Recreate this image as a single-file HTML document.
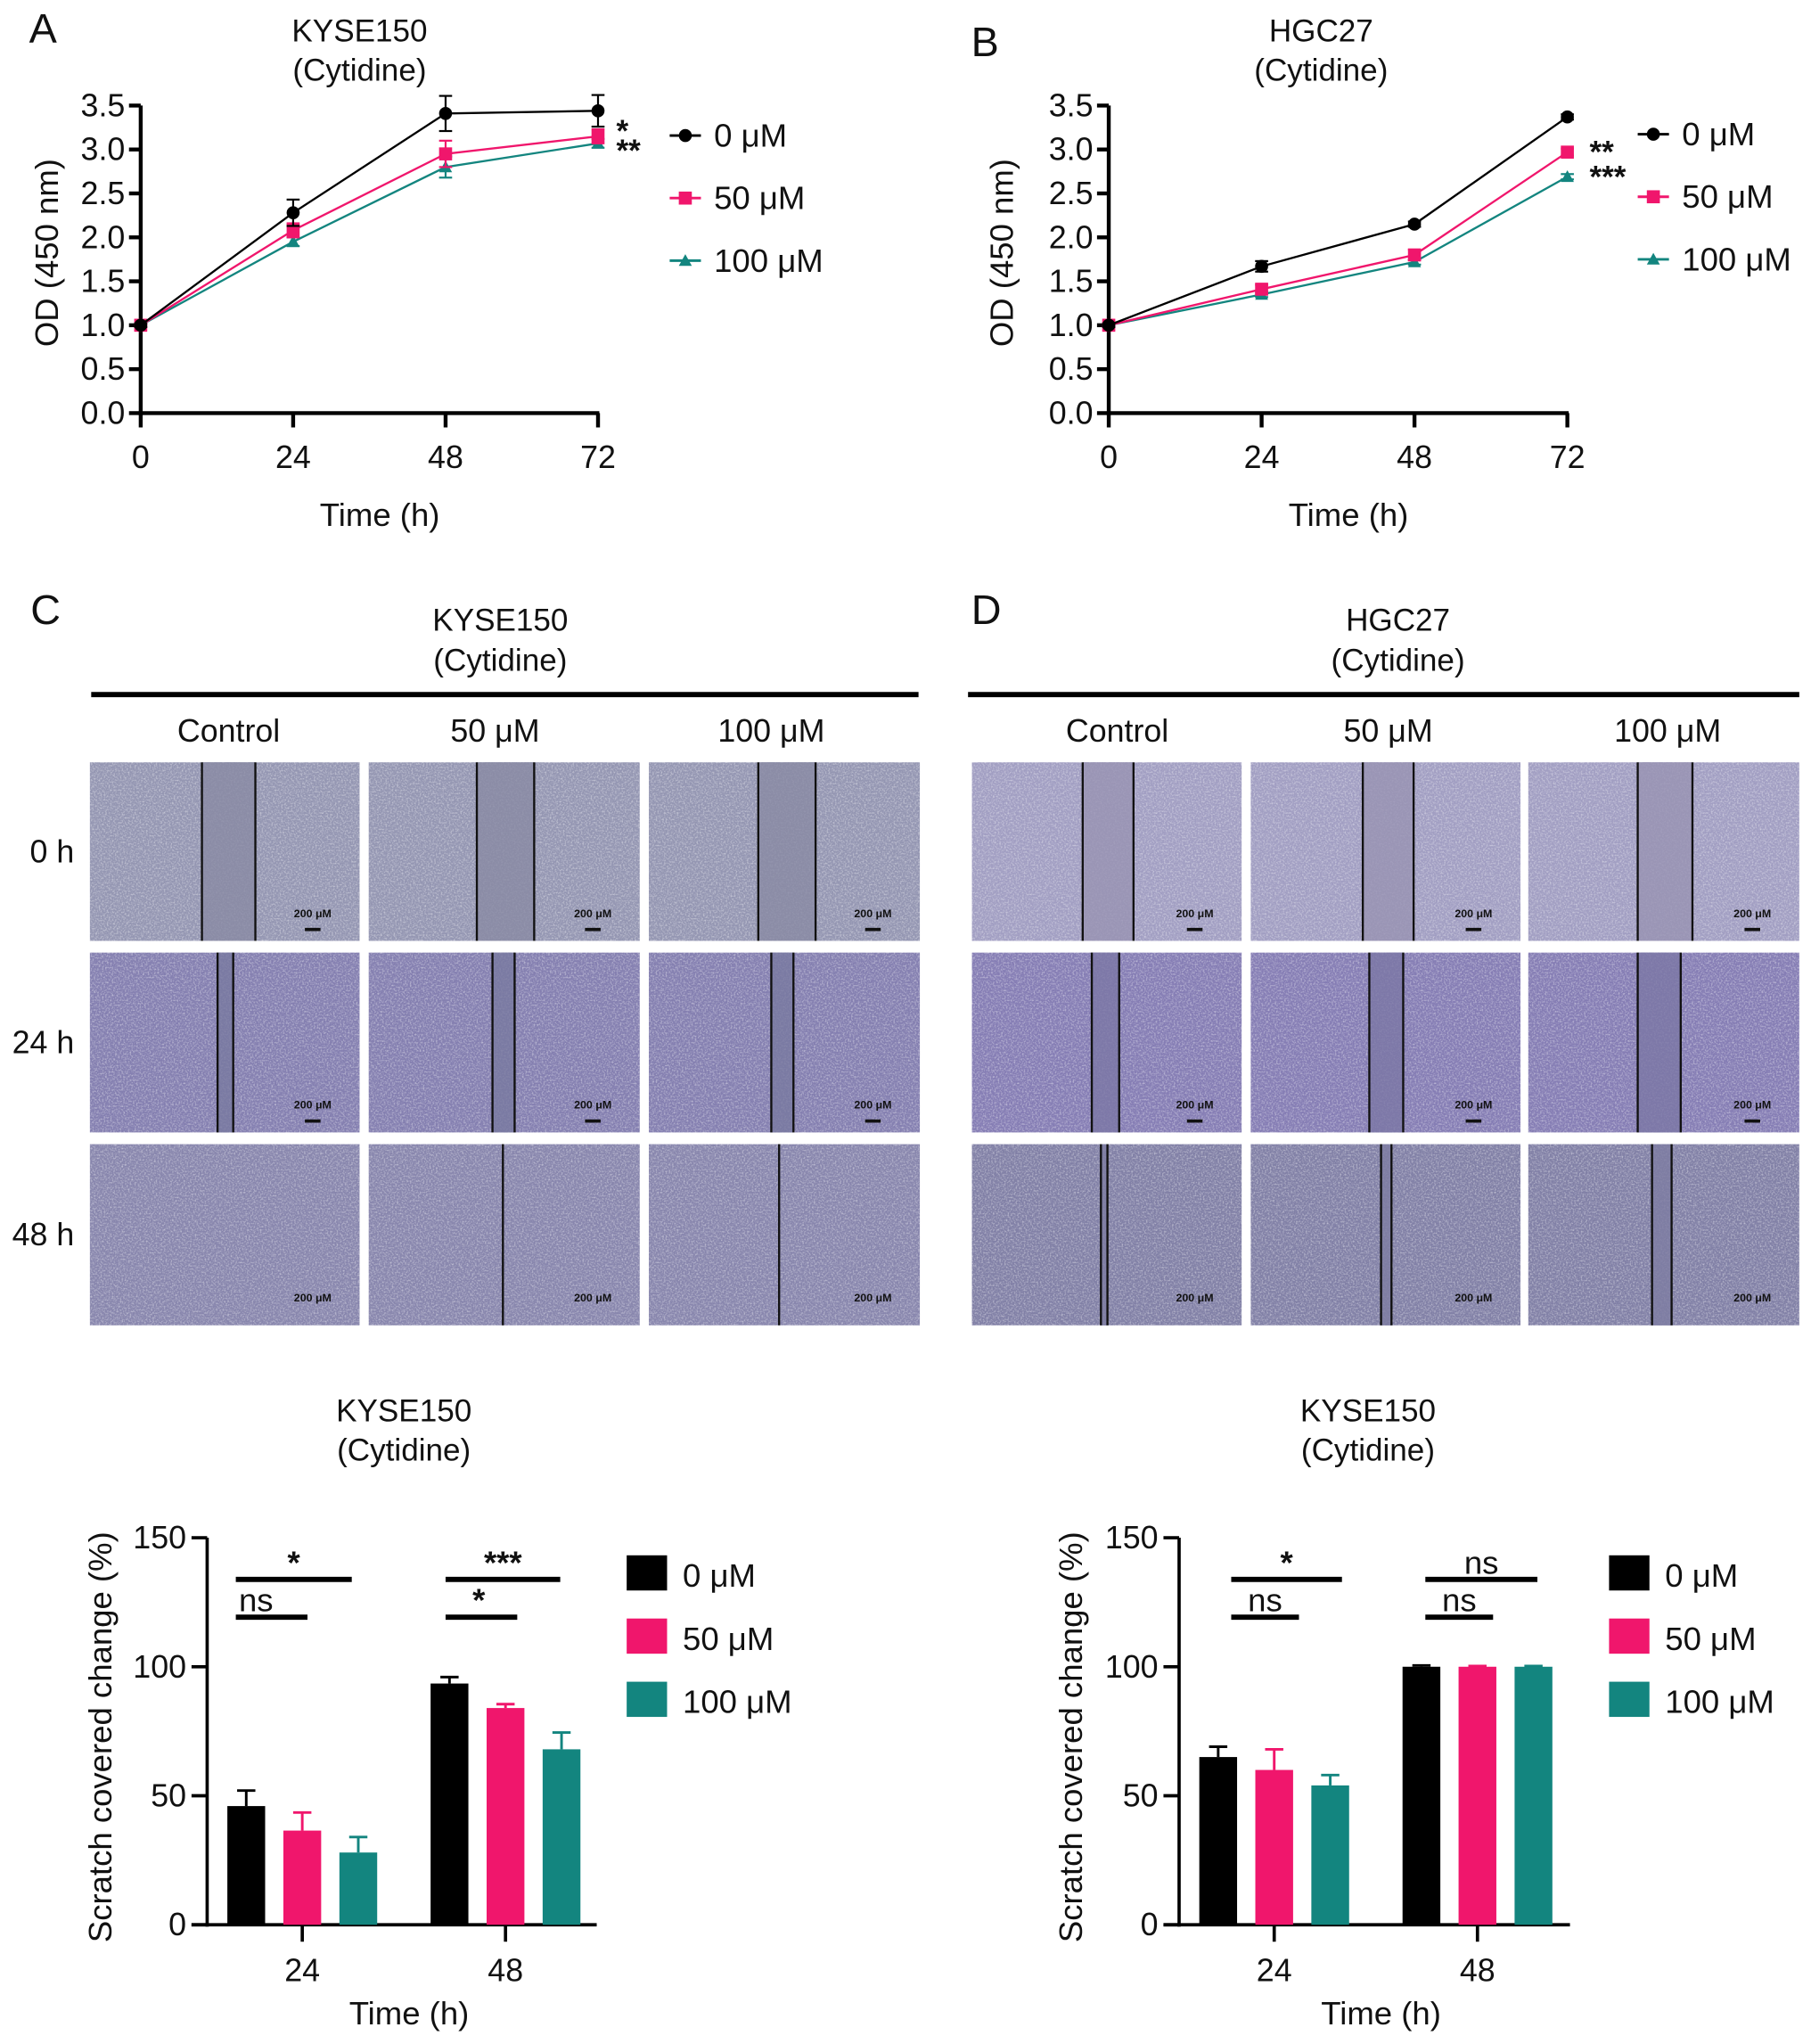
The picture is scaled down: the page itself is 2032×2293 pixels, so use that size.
<!DOCTYPE html>
<html><head><meta charset="utf-8">
<style>
html,body{margin:0;padding:0;background:#fff;}
svg{display:block;font-family:"Liberation Sans",Arial,sans-serif;}
</style></head>
<body>
<svg id="fig" width="2032" height="2293" viewBox="0 0 1390 1568.5" preserveAspectRatio="none" xmlns="http://www.w3.org/2000/svg">
<defs>
<filter id="noise" x="0" y="0" width="100%" height="100%">
<feTurbulence type="fractalNoise" baseFrequency="0.8" numOctaves="2" seed="3" result="t"/>
<feColorMatrix type="matrix" values="0 0 0 0 1  0 0 0 0 1  0 0 0 0 1  0 0 0 2.2 -0.95"/>
</filter>
</defs>
</svg>
<script>
// ===== data: line charts =====
const timeCats = [0, 24, 48, 72];
const yTicksOD = [0.0, 0.5, 1.0, 1.5, 2.0, 2.5, 3.0, 3.5];
const seriesLabels = ['0 μM', '50 μM', '100 μM'];
const kyseOD0 = [1.0, 2.28, 3.41, 3.44];
const kyseOD50 = [1.0, 2.08, 2.95, 3.15];
const kyseOD100 = [1.0, 1.95, 2.80, 3.07];
const kyseErr0 = [0.02, 0.15, 0.20, 0.18];
const kyseErr50 = [0.02, 0.08, 0.15, 0.08];
const kyseErr100 = [0.02, 0.05, 0.12, 0.05];
const hgcOD0 = [1.0, 1.67, 2.15, 3.37];
const hgcOD50 = [1.0, 1.41, 1.80, 2.97];
const hgcOD100 = [1.0, 1.35, 1.72, 2.69];
const hgcErr0 = [0.02, 0.06, 0.03, 0.03];
const hgcErr50 = [0.02, 0.05, 0.06, 0.04];
const hgcErr100 = [0.02, 0.03, 0.03, 0.03];
// ===== data: bar charts =====
const barCats = ['24', '48'];
const yTicksBar = [0, 50, 100, 150];
const leftBar0 = [46, 93.5];
const leftBar50 = [36.5, 84];
const leftBar100 = [28, 68];
const leftErr0 = [6, 2.5];
const leftErr50 = [7, 1.5];
const leftErr100 = [6, 6.5];
const rightBar0 = [65, 100];
const rightBar50 = [60, 100];
const rightBar100 = [54, 100];
const rightErr0 = [4, 0.5];
const rightErr50 = [8, 0.3];
const rightErr100 = [4, 0.3];

const COLORS = ['#000000', '#f0166c', '#13857f'];
const svg = document.getElementById('fig');
const NS = 'http://www.w3.org/2000/svg';
function el(tag, attrs, parent, text) {
  const e = document.createElementNS(NS, tag);
  for (const k in attrs) e.setAttribute(k, attrs[k]);
  if (text !== undefined) e.textContent = text;
  (parent || svg).appendChild(e);
  return e;
}
function txt(x, y, s, size, anchor, parent, weight) {
  return el('text', {x: x, y: y, 'font-size': size, 'text-anchor': anchor || 'middle', 'dominant-baseline': 'central', fill: '#111', 'font-weight': weight || 'normal'}, parent, s);
}

// panel letters
[['A', 33, 22], ['B', 756, 32], ['C', 35, 468], ['D', 757, 468]].forEach(function (p) {
  const t = txt(p[1], p[2], p[0], 32, 'middle');
  
  
});

function lineChart(o) {
  const g = el('g', {});
  
  
  const xS = function (t) { return o.x0 + (t / 72) * (o.x1 - o.x0); };
  const yS = function (v) { return 317 - v * (236 / 3.5); };
  txt(o.tc, 24, o.title, 24, 'middle', g);
  txt(o.tc, 54, '(Cytidine)', 24, 'middle', g);
  const ya = el('line', {x1: o.x0, y1: yS(3.5), x2: o.x0, y2: 318.5, stroke: '#000', 'stroke-width': 3}, g);
  
  
  const xa = el('line', {x1: o.x0 - 1.5, y1: 317, x2: o.x1 + 1, y2: 317, stroke: '#000', 'stroke-width': 3}, g);
  
  
  yTicksOD.forEach(function (v) {
    el('line', {x1: o.x0 - 9, y1: yS(v), x2: o.x0, y2: yS(v), stroke: '#000', 'stroke-width': 3}, g);
    const t = txt(o.x0 - 12, yS(v), v.toFixed(1), 24.5, 'end', g);
    
    
  });
  timeCats.forEach(function (c) {
    el('line', {x1: xS(c), y1: 317, x2: xS(c), y2: 328, stroke: '#000', 'stroke-width': 3}, g);
    const t = txt(xS(c), 351, String(c), 24.5, 'middle', g);
    
    
  });
  const yl = txt(0, 0, 'OD (450 nm)', 25, 'middle', g);
  yl.setAttribute('transform', 'translate(' + o.ylx + ',194) rotate(-90)');
  
  
  const xl = txt((o.x0 + o.x1) / 2 + 8, 395, 'Time (h)', 25, 'middle', g);
  
  
  const series = [o.s0, o.s50, o.s100];
  const errs = [o.e0, o.e50, o.e100];
  [2, 1, 0].forEach(function (i) {
    const pts = series[i].map(function (v, k) { return xS(timeCats[k]) + ',' + yS(v); }).join(' ');
    const pl = el('polyline', {points: pts, fill: 'none', stroke: COLORS[i], 'stroke-width': 1.6}, g);
    
    
    series[i].forEach(function (v, k) {
      const x = xS(timeCats[k]), y = yS(v), e = errs[i][k] * (236 / 3.5);
      el('line', {x1: x, y1: y - e, x2: x, y2: y + e, stroke: COLORS[i], 'stroke-width': 1.5}, g);
      el('line', {x1: x - 5, y1: y - e, x2: x + 5, y2: y - e, stroke: COLORS[i], 'stroke-width': 1.5}, g);
      el('line', {x1: x - 5, y1: y + e, x2: x + 5, y2: y + e, stroke: COLORS[i], 'stroke-width': 1.5}, g);
      let m;
      if (i === 0) m = el('circle', {cx: x, cy: y, r: 5, fill: COLORS[0]}, g);
      else if (i === 1) m = el('rect', {x: x - 5, y: y - 5, width: 10, height: 10, fill: COLORS[1]}, g);
      else m = el('polygon', {points: (x - 5) + ',' + (y + 4) + ' ' + (x + 5) + ',' + (y + 4) + ' ' + x + ',' + (y - 5), fill: COLORS[2]}, g);
      
      
    });
  });
  o.stars.forEach(function (s) { txt(s[0], s[1], s[2], 24, 'start', g, 'bold'); });
  seriesLabels.forEach(function (lab, i) {
    const ly = o.ly + i * 48, lx = o.lx;
    const lg = el('g', {}, g);
    
    
    el('line', {x1: lx, y1: ly, x2: lx + 24, y2: ly, stroke: COLORS[i], 'stroke-width': 2}, lg);
    const cx = lx + 12;
    if (i === 0) el('circle', {cx: cx, cy: ly, r: 5, fill: COLORS[0]}, lg);
    else if (i === 1) el('rect', {x: cx - 5, y: ly - 5, width: 10, height: 10, fill: COLORS[1]}, lg);
    else el('polygon', {points: (cx - 5) + ',' + (ly + 4) + ' ' + (cx + 5) + ',' + (ly + 4) + ' ' + cx + ',' + (ly - 5), fill: COLORS[2]}, lg);
    txt(lx + 34, ly, lab, 25, 'start', lg);
  });
}
lineChart({name: 'chart-a-kyse150-od', x0: 108, x1: 459, tc: 276, ylx: 36, title: 'KYSE150',
  s0: kyseOD0, s50: kyseOD50, s100: kyseOD100, e0: kyseErr0, e50: kyseErr50, e100: kyseErr100,
  stars: [[473, 101, '*'], [473, 116, '**']], lx: 514, ly: 104});
lineChart({name: 'chart-b-hgc27-od', x0: 851, x1: 1203, tc: 1014, ylx: 769, title: 'HGC27',
  s0: hgcOD0, s50: hgcOD50, s100: hgcOD100, e0: hgcErr0, e50: hgcErr50, e100: hgcErr100,
  stars: [[1220, 117, '**'], [1220, 136, '***']], lx: 1257, ly: 103});

// ===== micrograph panels =====
const rowLabels = ['0 h', '24 h', '48 h'];
const colLabels = ['Control', '50 μM', '100 μM'];
const rowsY = [[585, 722], [731, 869], [878, 1017]];
function micro(o) {
  const g = el('g', {});
  
  
  txt(o.tc, 476, o.title, 24, 'middle', g);
  txt(o.tc, 507, '(Cytidine)', 24, 'middle', g);
  el('line', {x1: o.lx0, y1: 533, x2: o.lx1, y2: 533, stroke: '#000', 'stroke-width': 4}, g);
  o.cols.forEach(function (c, ci) {
    const h = txt((c[0] + c[1]) / 2 + o.hoff[ci], 561, colLabels[ci], 24.5, 'middle', g);
    
    
    rowsY.forEach(function (r, ri) {
      const ig = el('g', {}, g);
      
      
      const w = c[1] - c[0], hh = r[1] - r[0];
      el('rect', {x: c[0], y: r[0], width: w, height: hh, fill: o.colors[ri]}, ig);
      const ln = o.lines[ri][ci];
      if (ln.length === 2) el('rect', {x: ln[0], y: r[0], width: ln[1] - ln[0], height: hh, fill: o.gap[ri]}, ig);
      el('rect', {x: c[0], y: r[0], width: w, height: hh, fill: '#fff', filter: 'url(#noise)', opacity: 0.5}, ig);
      if (ln.length === 2) el('rect', {x: ln[0], y: r[0], width: ln[1] - ln[0], height: hh, fill: o.gap[ri], opacity: 0.8}, ig);
      ln.forEach(function (lx) { el('line', {x1: lx, y1: r[0], x2: lx, y2: r[1], stroke: '#111', 'stroke-width': 1.6}, ig); });
      txt(c[1] - 36, r[1] - 21, '200 μM', 8.5, 'middle', ig, 'bold');
      if (ri < 2) el('rect', {x: c[1] - 42, y: r[1] - 10, width: 12, height: 2.5, fill: '#111'}, ig);
    });
  });
  if (o.rowLabels) rowsY.forEach(function (r, ri) {
    const t = txt(57, (r[0] + r[1]) / 2, rowLabels[ri], 24.5, 'end', g);
    
    
  });
}
micro({name: 'panel-c-kyse150-scratch', tc: 384, title: 'KYSE150', lx0: 70, lx1: 705, rowLabels: true,
  cols: [[69, 276], [283, 491], [498, 706]], hoff: [3, -7, -10],
  colors: ['#9496b2', '#847fb0', '#8886ad'], gap: ['#8b8ca6', '#7b7aa3', '#8a89aa'],
  lines: [[[155, 196], [366, 410], [582, 626]], [[167, 179], [378, 395], [592, 609]], [[], [386], [598]]]});
micro({name: 'panel-d-hgc27-scratch', tc: 1073, title: 'HGC27', lx0: 743, lx1: 1381, rowLabels: false,
  cols: [[746, 953], [960, 1167], [1173, 1381]], hoff: [8, 2, 3],
  colors: ['#a19ec2', '#857db4', '#8180a6'], gap: ['#9a95b5', '#7d78a8', '#7e7da3'],
  lines: [[[831, 870], [1046, 1085], [1257, 1299]], [[838, 859], [1051, 1077], [1257, 1290]], [[845, 850], [1060, 1068], [1268, 1283]]]});

// ===== bar charts =====
function barChart(o) {
  const g = el('g', {});
  
  
  const yS = function (v) { return 1477 - v * (297 / 150); };
  const gx = [o.g24, o.g48];
  txt(o.tc, 1083, 'KYSE150', 24, 'middle', g);
  txt(o.tc, 1113, '(Cytidine)', 24, 'middle', g);
  const ya = el('line', {x1: o.x0, y1: yS(150), x2: o.x0, y2: 1478.5, stroke: '#000', 'stroke-width': 2.5}, g);
  
  
  const xa = el('line', {x1: o.x0 - 12, y1: 1477, x2: o.x1, y2: 1477, stroke: '#000', 'stroke-width': 2.5}, g);
  
  
  yTicksBar.forEach(function (v) {
    el('line', {x1: o.x0 - 12, y1: yS(v), x2: o.x0, y2: yS(v), stroke: '#000', 'stroke-width': 2.5}, g);
    const t = txt(o.x0 - 16, yS(v), String(v), 24.5, 'end', g);
    
    
  });
  barCats.forEach(function (c, k) {
    el('line', {x1: gx[k], y1: 1477, x2: gx[k], y2: 1490, stroke: '#000', 'stroke-width': 2.5}, g);
    const t = txt(gx[k], 1512, c, 24.5, 'middle', g);
    
    
  });
  const yl = txt(0, 0, 'Scratch covered change (%)', 25, 'middle', g);
  yl.setAttribute('transform', 'translate(' + o.ylx + ',1333) rotate(-90)');
  
  
  const xl = txt(o.xlx, 1545, 'Time (h)', 25, 'middle', g);
  
  
  const vals = [o.b0, o.b50, o.b100], errs = [o.e0, o.e50, o.e100];
  const offs = [-43, 0, 43];
  vals.forEach(function (arr, i) {
    arr.forEach(function (v, k) {
      const cx = gx[k] + offs[i], x = cx - 14.5, y = yS(v), e = errs[i][k] * (297 / 150);
      el('line', {x1: cx, y1: y, x2: cx, y2: y - e, stroke: COLORS[i], 'stroke-width': 2}, g);
      el('line', {x1: cx - 7, y1: y - e, x2: cx + 7, y2: y - e, stroke: COLORS[i], 'stroke-width': 2}, g);
      const b = el('rect', {x: x, y: y, width: 29, height: 1477 - y, fill: COLORS[i]}, g);
      
      
    });
  });
  o.sig.forEach(function (s) {
    el('line', {x1: s[0], y1: s[2], x2: s[1], y2: s[2], stroke: '#000', 'stroke-width': 4}, g);
    const t = txt((s[0] + s[1]) / 2 + (s[4] || 0), s[2] - 13, s[3], 25, 'middle', g, s[3] === 'ns' ? 'normal' : 'bold');
    
    
  });
  seriesLabels.forEach(function (lab, i) {
    const ly = 1207 + i * 48.5;
    const lg = el('g', {}, g);
    
    
    el('rect', {x: o.lgx, y: ly - 13.5, width: 31, height: 27, fill: COLORS[i]}, lg);
    txt(o.lgx + 43, ly + 2, lab, 25, 'start', lg);
  });
}
barChart({name: 'chart-e-kyse150-scratch-bars', x0: 159, x1: 458, g24: 232, g48: 388, tc: 310, ylx: 77, xlx: 314, lgx: 481,
  b0: leftBar0, b50: leftBar50, b100: leftBar100, e0: leftErr0, e50: leftErr50, e100: leftErr100,
  sig: [[181, 270, 1212, '*', 0], [181, 236, 1241, 'ns', -12], [342, 430, 1212, '***', 0], [342, 397, 1241, '*', -2]]});
barChart({name: 'chart-f-scratch-bars', x0: 905, x1: 1205, g24: 978, g48: 1134, tc: 1050, ylx: 822, xlx: 1060, lgx: 1235,
  b0: rightBar0, b50: rightBar50, b100: rightBar100, e0: rightErr0, e50: rightErr50, e100: rightErr100,
  sig: [[945, 1030, 1212, '*', 0], [945, 997, 1241, 'ns', 0], [1094, 1180, 1212, 'ns', 0], [1094, 1146, 1241, 'ns', 0]]});
</script>
</body></html>
